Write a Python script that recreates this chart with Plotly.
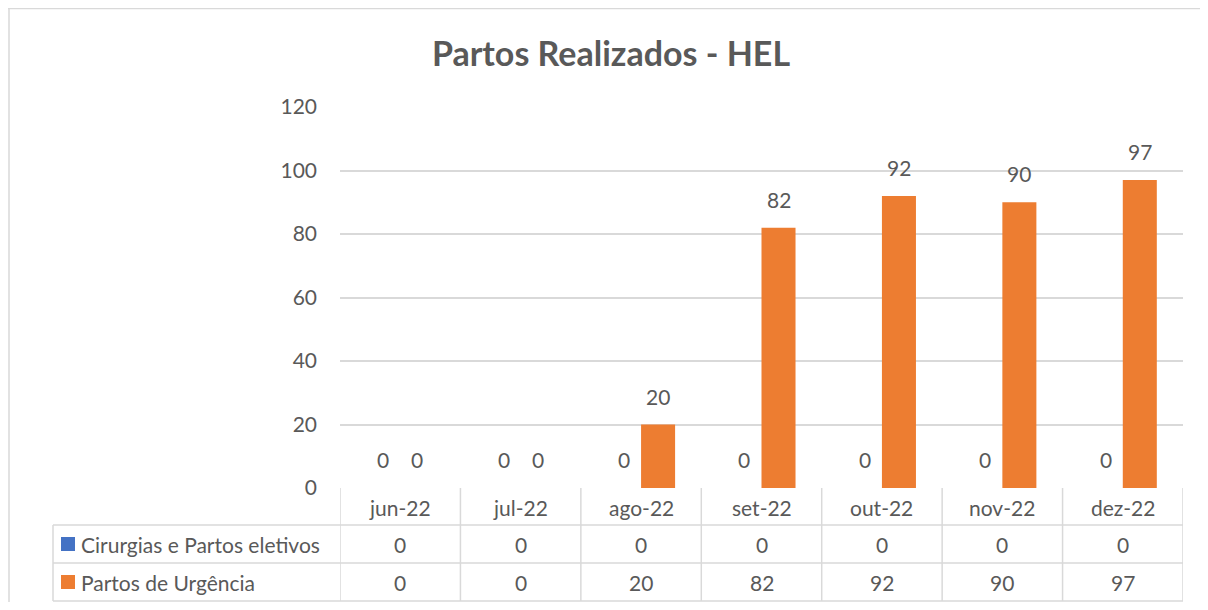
import plotly.graph_objects as go

categories = ["jun-22", "jul-22", "ago-22", "set-22", "out-22", "nov-22", "dez-22"]
series_names = ["Cirurgias e Partos eletivos", "Partos de Urgência"]
eletivos = [0, 0, 0, 0, 0, 0, 0]
urgencia = [0, 0, 20, 82, 92, 90, 97]
colors = ["#4472C4", "#ED7D31"]
title = "Partos Realizados - HEL"

FONT = "Lato"
TXT = "#595959"
GRID = "#d9d9d9"
OFF = 8  # page body margin
W, H = 1192, 594
ML, MR, MT, MB = 332, 17, 99, 114
PW = W - ML - MR
PH = H - MT - MB
X0 = OFF + ML          # page px of plot left
YB = OFF + H - MB      # page px of plot bottom

def px2xp(px):
    return (px - X0) / PW

def py2yp(py):
    return (YB - py) / PH

fig = go.Figure()
series = [eletivos, urgencia]
for name, vals, col in zip(series_names, series, colors):
    fig.add_trace(go.Bar(x=categories, y=vals, name=name, marker_color=col,
                         marker_line_width=0, showlegend=False))

annotations = []
shapes = []
FS = 21
# data labels
bw = 0.2825
offsets = [-bw / 2, bw / 2]
for vals, off in zip(series, offsets):
    for j, v in enumerate(vals):
        annotations.append(dict(x=j + off, y=v, xref="x", yref="y", text=str(v),
                                showarrow=False, yanchor="bottom", yshift=14,
                                font=dict(family=FONT, size=FS, color=TXT)))

# table geometry
row_lines = [py2yp(525), py2yp(563), py2yp(601)]
row_centers = [py2yp(507), py2yp(544), py2yp(582)]
left_x = px2xp(53)

for j, c in enumerate(categories):
    annotations.append(dict(x=j, y=row_centers[0], xref="x", yref="paper", text=c,
                            showarrow=False, yanchor="middle",
                            font=dict(family=FONT, size=FS, color=TXT)))
for r, vals in enumerate(series):
    for j, v in enumerate(vals):
        annotations.append(dict(x=j, y=row_centers[r + 1], xref="x", yref="paper",
                                text=str(v), showarrow=False, yanchor="middle",
                                font=dict(family=FONT, size=FS, color=TXT)))
    annotations.append(dict(x=px2xp(79), y=row_centers[r + 1], xref="paper", yref="paper",
                            text=series_names[r], showarrow=False, xanchor="left",
                            yanchor="middle", font=dict(family=FONT, size=FS, color=TXT)))
    cy = row_centers[r + 1]
    half = 7 / PH
    shapes.append(dict(type="rect", xref="paper", yref="paper",
                       x0=px2xp(61), x1=px2xp(75), y0=cy - half, y1=cy + half,
                       fillcolor=colors[r], line=dict(width=0)))

for j in range(len(categories) + 1):
    shapes.append(dict(type="line", xref="x", yref="paper", x0=j - 0.5, x1=j - 0.5,
                       y0=row_lines[-1], y1=0, line=dict(color=GRID, width=1.5)))
for yl in row_lines:
    shapes.append(dict(type="line", xref="paper", yref="paper", x0=left_x, x1=1,
                       y0=yl, y1=yl, line=dict(color=GRID, width=1.5)))
shapes.append(dict(type="line", xref="paper", yref="paper", x0=left_x, x1=left_x,
                   y0=row_lines[0], y1=row_lines[-1], line=dict(color=GRID, width=1.5)))
# outer chart border (left and top edges only)
shapes.append(dict(type="line", xref="paper", yref="paper", x0=px2xp(9), x1=px2xp(9),
                   y0=py2yp(612), y1=py2yp(8), line=dict(color=GRID, width=1.5)))
shapes.append(dict(type="line", xref="paper", yref="paper", x0=px2xp(8), x1=px2xp(1210),
                   y0=py2yp(8.5), y1=py2yp(8.5), line=dict(color=GRID, width=1.5)))

fig.update_layout(
    width=W, height=H,
    margin=dict(l=ML, r=MR, t=MT, b=MB),
    paper_bgcolor="white", plot_bgcolor="white",
    barmode="group", bargap=0.435, bargroupgap=0,
    title=dict(text="<b>" + title + "</b>", x=(611 - OFF) / W, xanchor="center",
               y=1 - (54 - OFF) / H, yanchor="middle",
               font=dict(family=FONT, size=34, color=TXT)),
    xaxis=dict(range=[-0.5, 6.5], showticklabels=False, showgrid=False,
               zeroline=False, showline=False, ticks=""),
    yaxis=dict(range=[0, 120], dtick=20, showgrid=True, gridcolor=GRID, gridwidth=1.5,
               zeroline=False, showline=False, ticks="", ticklabelstandoff=22,
               tickfont=dict(family=FONT, size=FS, color=TXT)),
    annotations=annotations,
    shapes=shapes,
)

fig.write_html("out.html")
